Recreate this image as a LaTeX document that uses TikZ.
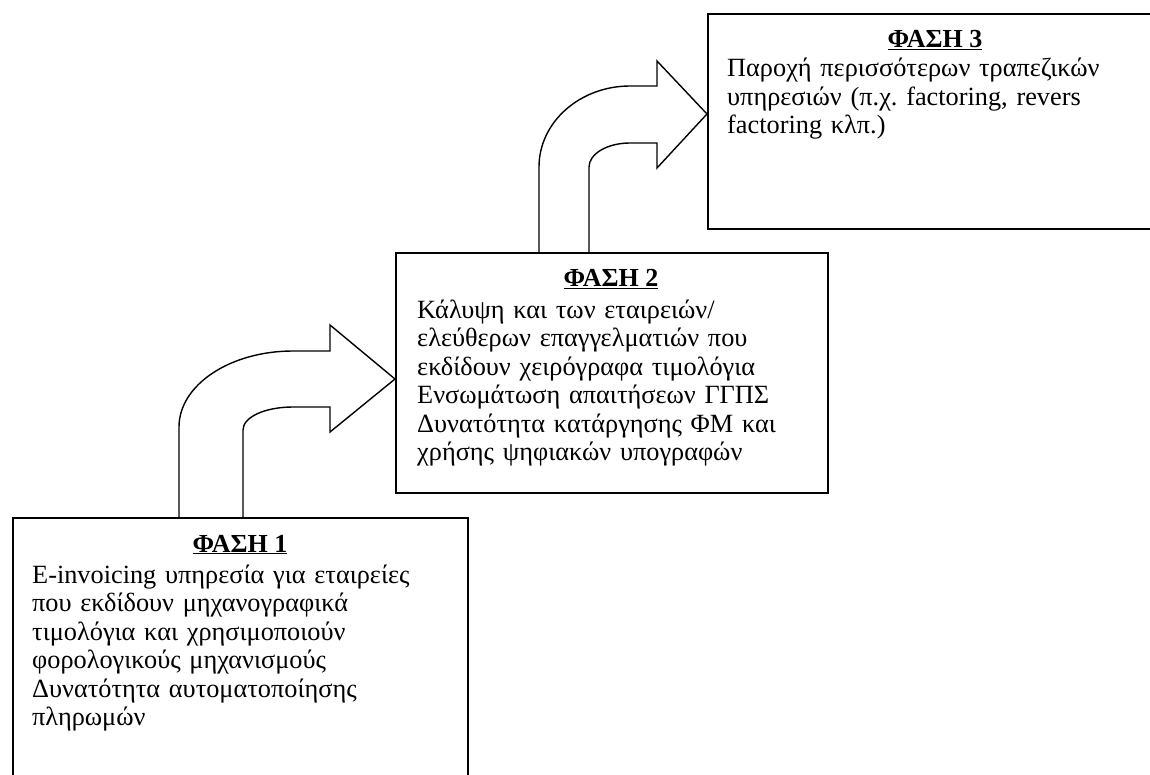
\documentclass[tikz,border=0pt]{standalone}
\usepackage{fontspec}
\setmainfont{Liberation Serif}
\frenchspacing
\begin{document}
\begin{tikzpicture}[x=1pt,y=-1pt,
  box/.style={draw=black,line width=2pt,fill=white,inner sep=0pt,anchor=north west},
  ttl/.style={anchor=base,inner sep=0pt,font=\fontsize{26}{28.5}\selectfont\bfseries},
  body/.style={anchor=base west,inner sep=0pt,text width=600pt,align=left,font=\fontsize{26.3}{28.5}\selectfont},
  blockarrow/.style={draw=black,line width=1.4pt,fill=white,line join=miter}]
\useasboundingbox (0,0) rectangle (1150,775);
\clip (0,0) rectangle (1150,775);
% arrows
\draw[blockarrow] (179,517) -- (179,427) .. controls (179,385) and (230,351) .. (293,351)
  -- (330,351) -- (330,325) -- (395,379) -- (330,432) -- (330,407) -- (293,407)
  .. controls (265,407) and (243,417) .. (243,430) -- (243,517);
\draw[blockarrow] (539,252) -- (539,167) .. controls (539,122) and (580,86) .. (630,86)
  -- (657,86) -- (657,61) -- (707,114) -- (657,168) -- (657,143) -- (630,143)
  .. controls (607,143) and (589,154) .. (589,167) -- (589,252);
% boxes
\node[box,minimum width=455pt,minimum height=280pt] (b1) at (12,517) {};
\node[box,minimum width=432pt,minimum height=240pt] (b2) at (395,252) {};
\node[box,minimum width=460pt,minimum height=215pt] (b3) at (707,13) {};
% titles
\node[ttl] (t1) at (240,552) {\underline{ΦΑΣΗ 1}};
\node[ttl] (t2) at (611,287) {\underline{ΦΑΣΗ 2}};
\node[ttl] (t3) at (935,48) {\underline{ΦΑΣΗ 3}};
% body texts
\node[body] (x1) at (32,583) {E-invoicing υπηρεσία για εταιρείες\\
που εκδίδουν μηχανογραφικά\\
τιμολόγια και χρησιμοποιούν\\
φορολογικούς μηχανισμούς\\
Δυνατότητα αυτοματοποίησης\\
πληρωμών};
\node[body] (x2) at (417,318) {Κάλυψη και των εταιρειών/\\
ελεύθερων επαγγελματιών που\\
εκδίδουν χειρόγραφα τιμολόγια\\
Ενσωμάτωση απαιτήσεων ΓΓΠΣ\\
Δυνατότητα κατάργησης ΦΜ και\\
χρήσης ψηφιακών υπογραφών};
\node[body] (x3) at (727,77) {Παροχή περισσότερων τραπεζικών\\
υπηρεσιών (π.χ. factoring, revers\\
factoring κλπ.)};
\end{tikzpicture}
\end{document}
